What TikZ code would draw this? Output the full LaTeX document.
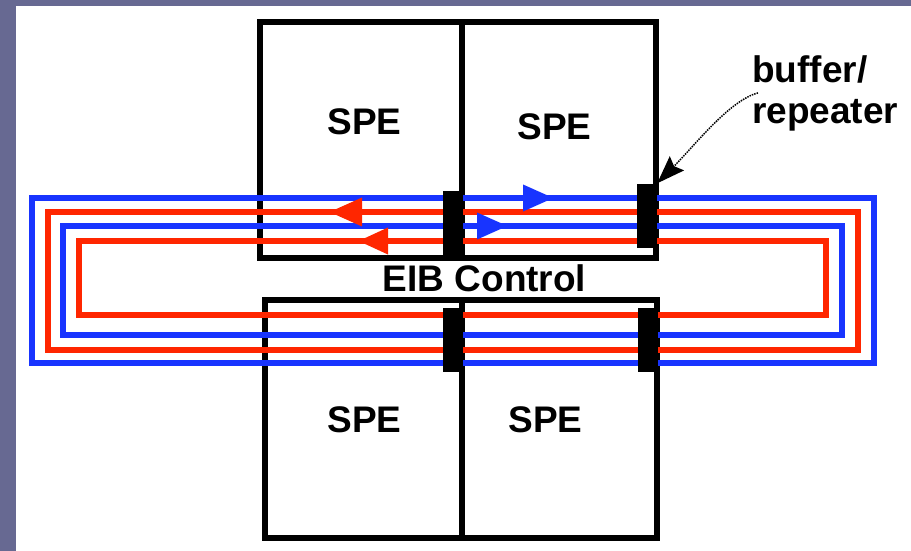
\documentclass[tikz,border=0pt]{standalone}
\usepackage{fontspec}
\setmainfont{Liberation Sans}
\usetikzlibrary{arrows.meta}
\definecolor{slate}{RGB}{103,105,146}
\definecolor{eibblue}{RGB}{24,52,255}
\definecolor{eibred}{RGB}{255,38,0}
\begin{document}
\begin{tikzpicture}[x=1pt,y=-1pt,
  ring/.style={line width=6.5pt},
  unit/.style={draw,line width=6pt},
  buffer/.style={fill=black,inner sep=0pt,minimum width=20pt,minimum height=64pt},
  tag/.style={font=\fontsize{37}{41}\selectfont\bfseries,inner sep=0pt}]
  \useasboundingbox (0,0) rectangle (911,551);
  \fill[slate] (0,0) rectangle (911,551);
  \fill[white] (16,6) rectangle (911,551);
  \draw[unit] (260,22) rectangle (462,258);
  \draw[unit] (462,22) rectangle (656,258);
  \draw[unit] (265,300) rectangle (462,538);
  \draw[unit] (462,300) rectangle (657,538);
  \draw[ring,eibblue] (32,198) rectangle (874,363);
  \draw[ring,eibred] (48,212) rectangle (858,350);
  \draw[ring,eibblue] (63,226) rectangle (842,335);
  \draw[ring,eibred] (79,241) rectangle (826,315);
  \draw[ring,eibred,-{Triangle[length=33pt,width=27pt]}] (380,212) -- (329,212);
  \draw[ring,eibred,-{Triangle[length=30pt,width=25pt]}] (400,241) -- (358,241);
  \draw[ring,eibblue,-{Triangle[length=31pt,width=25pt]}] (510,198) -- (554,198);
  \draw[ring,eibblue,-{Triangle[length=31pt,width=25pt]}] (470,226) -- (508,226);
  \node[buffer] (buf1) at (453,223) {};
  \node[buffer] (buf2) at (647,215.5) {};
  \node[buffer] (buf3) at (452.5,340) {};
  \node[buffer] (buf4) at (647.5,340) {};
  \node[tag] (spe1) at (364.5,121.5) {SPE};
  \node[tag] (spe2) at (554.5,126.5) {SPE};
  \node[tag] (spe3) at (364.5,420) {SPE};
  \node[tag] (spe4) at (545.5,419.5) {SPE};
  \node[tag] (eib) at (484.5,278.5) {EIB Control};
  \node[tag,align=left,anchor=north west] (note) at (752,55) {buffer/\\repeater};
  \draw[line width=1.5pt,densely dotted,-{Stealth[length=28pt,width=20pt,inset=4pt]}]
    ([xshift=6pt]note.west) .. controls (730,100) and (695,145) .. (buf2.north east);
\end{tikzpicture}
\end{document}
